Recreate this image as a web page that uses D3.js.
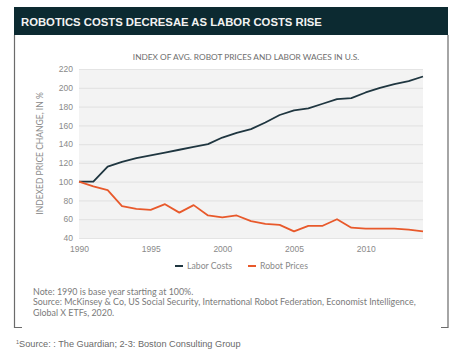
<!DOCTYPE html>
<html lang="en">
<head>
  <meta charset="UTF-8">
  <title>Robotics costs decrease as labor costs rise</title>
  <script src="https://d3js.org/d3.v7.min.js"></script>
  <style>
    body { margin: 0; background: #fff; }
    svg { display: block; font-family: Lato, "Open Sans", Arial, sans-serif; }
    .tick text { fill: #8a8a8a; font-size: 8.5px; }
  </style>
</head>
<body>
  <svg width="466" height="350"></svg>
  <script>
    // values, 1990 = 100
    const years = d3.range(1990, 2015);
    const laborCosts = [100, 100, 116, 121, 125, 128, 131, 134, 137, 140, 147, 152, 156, 163, 171, 176,
                        178, 183, 188, 189, 195, 200, 204, 207, 212];
    const robotPrices = [100, 95, 91, 74, 71, 70, 76, 67, 75, 64, 62, 64, 58, 55, 54, 47,
                         53, 53, 60, 51, 50, 50, 50, 49, 47];
    const yTicks = [40, 60, 80, 100, 120, 140, 160, 180, 200, 220];
    const xTicks = [1990, 1995, 2000, 2005, 2010];
    const seriesNames = ["Labor Costs", "Robot Prices"];
    const seriesColors = ["#1f3640", "#e8592b"];

    const margin = { top: 69, right: 43, bottom: 112, left: 79 };
    const width = 466;
    const height = 350;

    const svg = d3.select("svg");

    // card frame + header
    svg.append("rect").attr("x", 14).attr("y", 7).attr("width", 434).attr("height", 28).attr("fill", "#0c2a31");
    svg.append("text")
      .attr("x", 21).attr("y", 25.5)
      .attr("fill", "#f2f2f2")
      .style("font-family", "'Liberation Sans', Arial, sans-serif")
      .style("font-weight", "bold")
      .style("font-size", "11.3px")
      .text("ROBOTICS COSTS DECRESAE AS LABOR COSTS RISE");

    const frame = svg.append("g").attr("stroke", "#6b6b6b").attr("stroke-width", 1.2).attr("fill", "none");
    frame.append("path").attr("d", "M14.5,35 V327.5 H22");
    frame.append("path").attr("d", "M448,35 V327.5 H441");

    svg.append("text")
      .attr("x", 246).attr("y", 60)
      .attr("text-anchor", "middle")
      .attr("fill", "#6e6e6e")
      .style("font-size", "8.3px")
      .style("font-stretch", "condensed")
      .text("INDEX OF AVG. ROBOT PRICES AND LABOR WAGES IN U.S.");

    const x = d3.scaleLinear().domain([1990, 2014]).range([margin.left, width - margin.right]);
    const y = d3.scaleLinear().domain([40, 220]).range([height - margin.bottom, margin.top]);

    svg.append("rect")
      .attr("x", x(1990)).attr("y", y(220))
      .attr("width", x(2014) - x(1990)).attr("height", y(40) - y(220))
      .attr("fill", "#f3f3f3");

    svg.append("g")
      .attr("transform", `translate(${margin.left},0)`)
      .call(d3.axisLeft(y).tickValues(yTicks).tickSize(-(x(2014) - x(1990))).tickPadding(6))
      .call(g => g.select(".domain").remove())
      .call(g => g.selectAll(".tick line").attr("stroke", "#e4e4e4").attr("stroke-width", 1.2));

    svg.append("g")
      .attr("transform", `translate(0,${y(40)})`)
      .call(d3.axisBottom(x).tickValues(xTicks).tickFormat(d3.format("d")).tickSize(0).tickPadding(8))
      .call(g => g.select(".domain").remove());

    svg.append("text")
      .attr("transform", `translate(43,${(y(40) + y(220)) / 2}) rotate(-90)`)
      .attr("text-anchor", "middle")
      .attr("fill", "#8a8a8a")
      .style("font-size", "8.5px")
      .text("INDEXED PRICE CHANGE, IN %");

    const line = d3.line().x((d, i) => x(years[i])).y(d => y(d));
    [laborCosts, robotPrices].forEach((vals, k) => {
      svg.append("path")
        .datum(vals)
        .attr("fill", "none")
        .attr("stroke", seriesColors[k])
        .attr("stroke-width", 1.8)
        .attr("stroke-linejoin", "round")
        .attr("d", line);
    });

    // legend
    const legendX = [175, 248];
    seriesNames.forEach((name, k) => {
      const g = svg.append("g").attr("transform", `translate(${legendX[k]},266)`);
      g.append("line").attr("x1", 0).attr("x2", 8).attr("stroke", seriesColors[k]).attr("stroke-width", 2);
      g.append("text").attr("x", 12).attr("y", 3)
        .attr("fill", "#8a8a8a").style("font-size", "8.7px").text(name);
    });

    const notes = [
      "Note: 1990 is base year starting at 100%.",
      "Source: McKinsey & Co, US Social Security, International Robot Federation, Economist Intelligence,",
      "Global X ETFs, 2020."
    ];
    svg.append("g").selectAll("text")
      .data(notes)
      .join("text")
      .attr("x", 33).attr("y", (d, i) => 294.5 + i * 10.7)
      .attr("fill", "#7a7a7a")
      .style("font-size", "8.9px")
      .text(d => d);

    const foot = svg.append("text")
      .attr("x", 16).attr("y", 347)
      .attr("fill", "#6a6a6a")
      .style("font-family", "'Liberation Sans', Arial, sans-serif")
      .style("font-size", "9.2px");
    foot.append("tspan").attr("dy", -3).style("font-size", "5.5px").text("1");
    foot.append("tspan").attr("dy", 3).text("Source: : The Guardian; 2-3: Boston Consulting Group");
  </script>
</body>
</html>
